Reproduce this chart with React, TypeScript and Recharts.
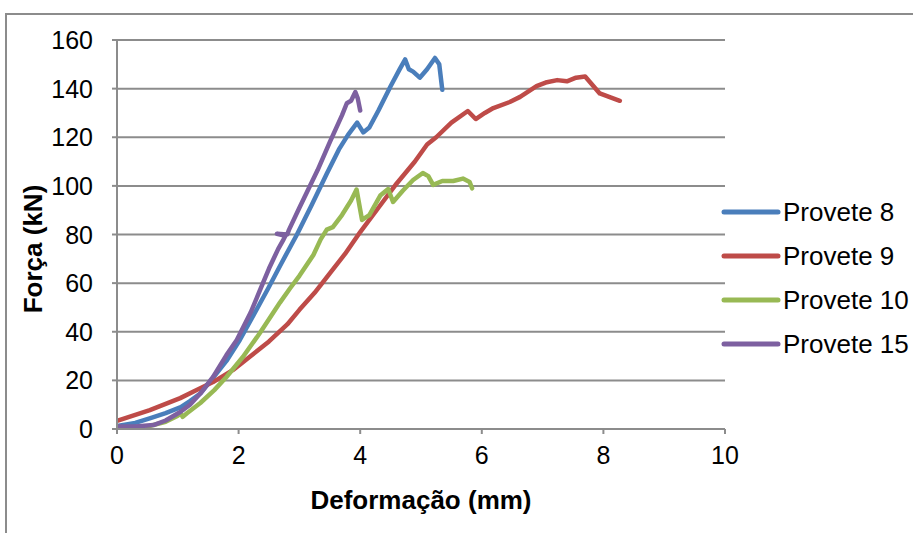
import React from 'react';
import { LineChart, Line, XAxis, YAxis, CartesianGrid } from 'recharts';

// [deformação (mm), força (kN)]
const provete8: number[][] = [
  [0, 1.2], [0.3, 2.5], [0.55, 4.5], [0.8, 6.5], [1.05, 9], [1.2, 11.5], [1.37, 14.6],
  [1.58, 21], [1.8, 28], [2.02, 36.6], [2.25, 47], [2.49, 58], [2.7, 68], [2.96, 80],
  [3.2, 92], [3.45, 105], [3.65, 115], [3.8, 121], [3.95, 126], [4.05, 122], [4.15, 124],
  [4.3, 131], [4.5, 141], [4.65, 148], [4.74, 152], [4.8, 148], [4.87, 147], [4.98, 144.5],
  [5.1, 148], [5.23, 152.6], [5.3, 150], [5.35, 139.5],
];
const provete9: number[][] = [
  [0, 3.3], [0.54, 7.8], [1.04, 12.7], [1.31, 16], [1.58, 19.3], [1.91, 24.3], [2.2, 30],
  [2.5, 36], [2.8, 43], [3.0, 49], [3.25, 56], [3.5, 64], [3.75, 72], [4.0, 81], [4.3, 91],
  [4.6, 101], [4.9, 110], [5.1, 117], [5.25, 120], [5.5, 126], [5.77, 130.8], [5.9, 127.5],
  [6.05, 130], [6.19, 132], [6.46, 134.5], [6.63, 136.6], [6.9, 141], [7.05, 142.5],
  [7.24, 143.5], [7.4, 143], [7.55, 144.5], [7.7, 145], [7.94, 138], [8.27, 135],
];
const provete10: number[][] = [
  [0.5, 1], [0.8, 3], [1.0, 5.5], [1.05, 6.3], [1.08, 5], [1.15, 6.5], [1.37, 10.7],
  [1.6, 16], [1.8, 21.4], [2.07, 29.6], [2.35, 39.5], [2.68, 52], [2.85, 58], [3.0, 63],
  [3.23, 71.6], [3.35, 78], [3.45, 82], [3.55, 83], [3.7, 88], [3.85, 94], [3.94, 98.5],
  [4.03, 86], [4.15, 88], [4.33, 96], [4.46, 98.7], [4.54, 93.4], [4.7, 98], [4.87, 102.4],
  [5.03, 105.3], [5.12, 104], [5.2, 100.4], [5.35, 102], [5.53, 102], [5.69, 103],
  [5.8, 101.6], [5.84, 99],
];
const provete15: number[][] = [
  [0, 1], [0.3, 1], [0.6, 1.6], [0.8, 3.5], [1.04, 7], [1.2, 10], [1.37, 14.6], [1.58, 21.4],
  [1.8, 30.4], [1.97, 36.6], [2.2, 48], [2.35, 57], [2.5, 66], [2.65, 74], [2.74, 78],
  [2.77, 79.5], [2.63, 80.3], [2.8, 80], [2.83, 82], [3.0, 91], [3.3, 106.5], [3.5, 118],
  [3.7, 129], [3.78, 134], [3.85, 135], [3.92, 138.6], [3.96, 136], [4.0, 131],
];

const seriesNames = ['Provete 8', 'Provete 9', 'Provete 10', 'Provete 15'];
const seriesColors = ['#4A7EBB', '#BE4B48', '#98B954', '#7D60A0'];
const seriesData = [provete8, provete9, provete10, provete15];

const xTicks = [0, 2, 4, 6, 8, 10];
const yTicks = [0, 20, 40, 60, 80, 100, 120, 140, 160];

const FONT = "'Liberation Sans', Arial, sans-serif";
const GRAY = '#8C8C8C';

const toPoints = (arr: number[][]) => arr.map(([x, y]) => ({ x, y }));

const XTick = (props: any) => {
  const { x, y, payload } = props;
  return (
    <text x={x} y={y} dy={28} textAnchor="middle" fontSize={25} fontFamily={FONT} fill="#000">
      {payload.value}
    </text>
  );
};

const YTick = (props: any) => {
  const { x, y, payload } = props;
  return (
    <text x={x} y={y} dx={-17} dy={9} textAnchor="end" fontSize={25} fontFamily={FONT} fill="#000">
      {payload.value}
    </text>
  );
};

export default function App() {
  return (
    <div style={{ position: 'absolute', left: 0, top: 0, width: 913, height: 533, overflow: 'hidden', background: '#fff' }}>
      <div style={{ position: 'absolute', left: 5, top: 13, width: 1000, height: 700, border: `2px solid ${GRAY}`, boxSizing: 'border-box' }} />
      <div style={{ position: 'absolute', left: 0, top: 0 }}>
        <LineChart width={913} height={533} margin={{ top: 40, right: 188, bottom: 74, left: 37 }}>
          <CartesianGrid vertical={false} stroke={GRAY} strokeWidth={2} />
          <XAxis
            dataKey="x"
            type="number"
            domain={[0, 10]}
            ticks={xTicks}
            allowDataOverflow
            height={30}
            stroke={GRAY}
            strokeWidth={2}
            tickSize={5}
            tick={<XTick />}
            label={{
              content: () => (
                <text x={421} y={509} textAnchor="middle" fontSize={26} fontWeight="bold" fontFamily={FONT} fill="#000">
                  Deformação (mm)
                </text>
              ),
            }}
          />
          <YAxis
            type="number"
            domain={[0, 160]}
            ticks={yTicks}
            width={80}
            stroke={GRAY}
            strokeWidth={2}
            tickSize={5}
            tick={<YTick />}
            label={{
              content: () => (
                <text transform="translate(42,249) rotate(-90)" textAnchor="middle" fontSize={26} fontWeight="bold" fontFamily={FONT} fill="#000">
                  Força (kN)
                </text>
              ),
            }}
          />
          {seriesData.map((d, i) => (
            <Line
              key={seriesNames[i]}
              data={toPoints(d)}
              dataKey="y"
              name={seriesNames[i]}
              type="linear"
              stroke={seriesColors[i]}
              strokeWidth={4.5}
              strokeLinejoin="round"
              strokeLinecap="round"
              dot={false}
              activeDot={false}
              isAnimationActive={false}
            />
          ))}
        </LineChart>
      </div>
      <div style={{ position: 'absolute', left: 721, top: 190 }}>
        {seriesNames.map((n, i) => (
          <div key={n} style={{ display: 'flex', alignItems: 'center', height: 44 }}>
            <svg width={60} height={8} style={{ display: 'block' }}>
              <line x1={3} y1={4} x2={57} y2={4} stroke={seriesColors[i]} strokeWidth={5} strokeLinecap="round" />
            </svg>
            <span style={{ fontFamily: FONT, fontSize: 26, color: '#000', marginLeft: 2, whiteSpace: 'nowrap', lineHeight: '44px' }}>{n}</span>
          </div>
        ))}
      </div>
    </div>
  );
}
